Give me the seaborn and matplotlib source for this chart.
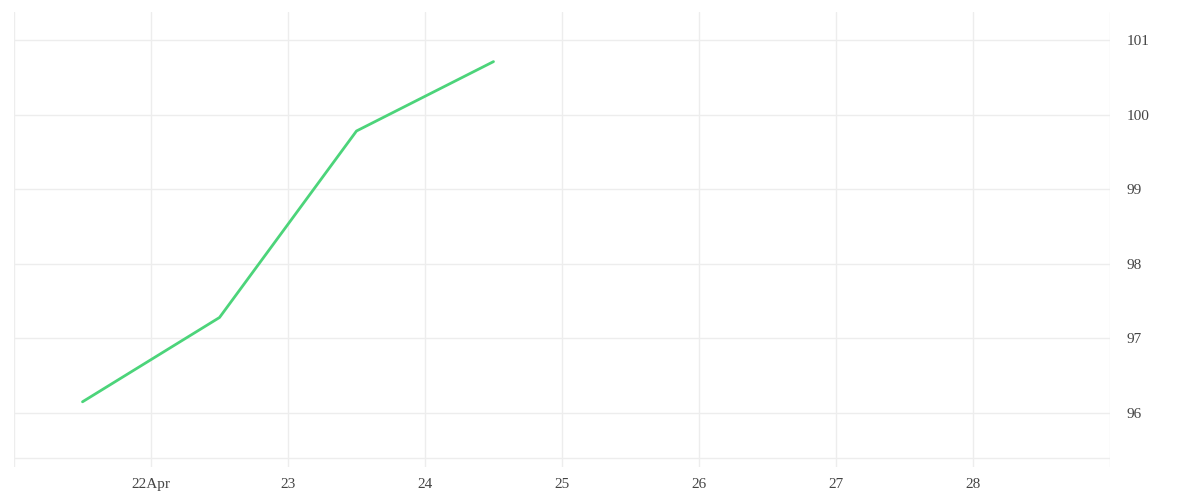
import pandas as pd
import numpy as np
import seaborn as sns
import matplotlib.pyplot as plt
import matplotlib.dates as mdates

# data
dates = ['2021-04-21 12:00', '2021-04-22 12:00', '2021-04-23 12:00', '2021-04-24 12:00']
values = [96.15, 97.28, 99.78, 100.71]
tick_days = ['2021-04-21', '2021-04-22', '2021-04-23', '2021-04-24', '2021-04-25',
             '2021-04-26', '2021-04-27', '2021-04-28', '2021-04-29']
tick_labels = ['', '22Apr', '23', '24', '25', '26', '27', '28', '']
y_ticks = [96, 97, 98, 99, 100, 101]

df = pd.DataFrame({'date': pd.to_datetime(dates), 'value': values})

sns.set_style('white')
plt.rcParams['font.family'] = ['Liberation Serif', 'DejaVu Serif']

fig = plt.figure(figsize=(12, 5), dpi=100)
ax = fig.add_axes([14 / 1200, 33 / 500, 1096 / 1200, 455 / 500])

sns.lineplot(data=df, x='date', y='value', ax=ax, color='#4cd47a', linewidth=2)

grid_c = '#ededed'
ax.set_xticks(pd.to_datetime(tick_days))
ax.set_xticklabels(tick_labels)
ax.set_xlim(pd.to_datetime(tick_days[0]), pd.to_datetime(tick_days[-1]))
ax.set_yticks(y_ticks)
ax.set_ylim(95.276, 101.375)
ax.grid(True, color=grid_c, linewidth=1)
ax.axhline(95.4, color=grid_c, linewidth=1, zorder=0)

ax.yaxis.tick_right()
ax.tick_params(axis='y', length=0, pad=12, labelsize=11, labelcolor='#444444')
ax.tick_params(axis='x', length=0, pad=8, labelsize=11, labelcolor='#444444')
for s in ax.spines.values():
    s.set_visible(False)
ax.set_xlabel('')
ax.set_ylabel('')

fig.savefig('out.png', dpi=100)
